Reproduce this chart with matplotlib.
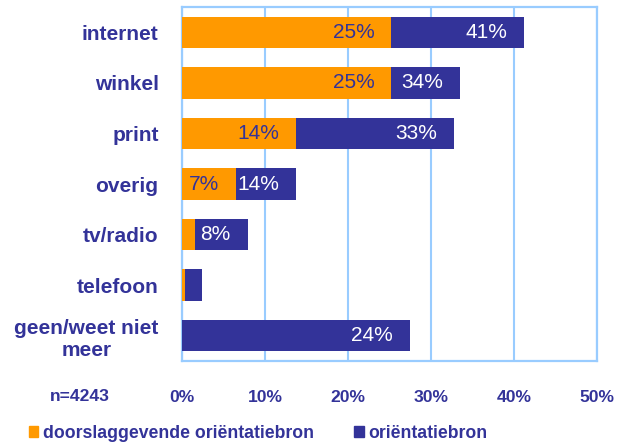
import matplotlib
matplotlib.use("Agg")
import matplotlib.pyplot as plt
from matplotlib.patches import Patch

plt.rcParams["font.family"] = ["Liberation Sans", "DejaVu Sans"]

categories = ["internet", "winkel", "print", "overig", "tv/radio", "telefoon",
              "geen/weet niet\nmeer"]
decisive = [25.2, 25.2, 13.7, 6.5, 1.6, 0.3, 0.0]
orientation = [41.2, 33.5, 32.8, 13.7, 7.9, 2.4, 27.4]
decisive_labels = ["25%", "25%", "14%", "7%", "", "", ""]
orientation_labels = ["41%", "34%", "33%", "14%", "8%", "", "24%"]
xticks = [0, 10, 20, 30, 40, 50]
n_label = "n=4243"
legend_labels = ["doorslaggevende oriëntatiebron", "oriëntatiebron"]

ORANGE = "#FF9900"
NAVY = "#333399"
FRAME = "#99CCFF"

fig = plt.figure(figsize=(6.24, 4.44), dpi=100)
ax = fig.add_axes([0.292, 0.187, 0.665, 0.797])

y = list(range(len(categories)))
ax.barh(y, orientation, height=0.62, color=NAVY, zorder=3)
ax.barh(y, decisive, height=0.62, color=ORANGE, zorder=4)

for yi, val, lab in zip(y, decisive, decisive_labels):
    if lab:
        ax.annotate(lab, (val, yi), xytext=(-12.2, 0), textcoords="offset points",
                    ha="right", va="center", fontsize=15, color=NAVY, zorder=5)
for yi, val, lab in zip(y, orientation, orientation_labels):
    if lab:
        ax.annotate(lab, (val, yi), xytext=(-12.2, 0), textcoords="offset points",
                    ha="right", va="center", fontsize=15, color="white", zorder=5)

ax.set_xlim(0, 50)
ax.set_ylim(len(categories) - 0.5, -0.5)
ax.set_xticks(xticks)
ax.set_xticklabels([f"{t}%" for t in xticks])
ax.set_yticks(y)
ax.set_yticklabels(categories, multialignment="center")
ax.tick_params(axis="x", length=0, pad=21, labelsize=12.6, labelcolor=NAVY)
ax.tick_params(axis="y", length=0, pad=17, labelsize=15, labelcolor=NAVY)
for lab in ax.get_xticklabels() + ax.get_yticklabels():
    lab.set_fontweight("bold")

ax.xaxis.grid(True, color=FRAME, linewidth=1.5, zorder=0)
for sp in ax.spines.values():
    sp.set_color(FRAME)
    sp.set_linewidth(1.6)

fig.text(80 / 624, 0.106, n_label, ha="center", va="center", fontsize=12.6,
         fontweight="bold", color=NAVY)

handles = [Patch(color=ORANGE), Patch(color=NAVY)]
leg = fig.legend(handles, legend_labels, loc="center left",
                 bbox_to_anchor=(0.046, 0.024), ncol=2, frameon=False,
                 handlelength=0.55, handleheight=0.55, handletextpad=0.25,
                 columnspacing=2.3, borderpad=0, borderaxespad=0,
                 prop={"size": 12.7, "weight": "bold"})
for t in leg.get_texts():
    t.set_color(NAVY)

fig.savefig("out.png", dpi=100)
